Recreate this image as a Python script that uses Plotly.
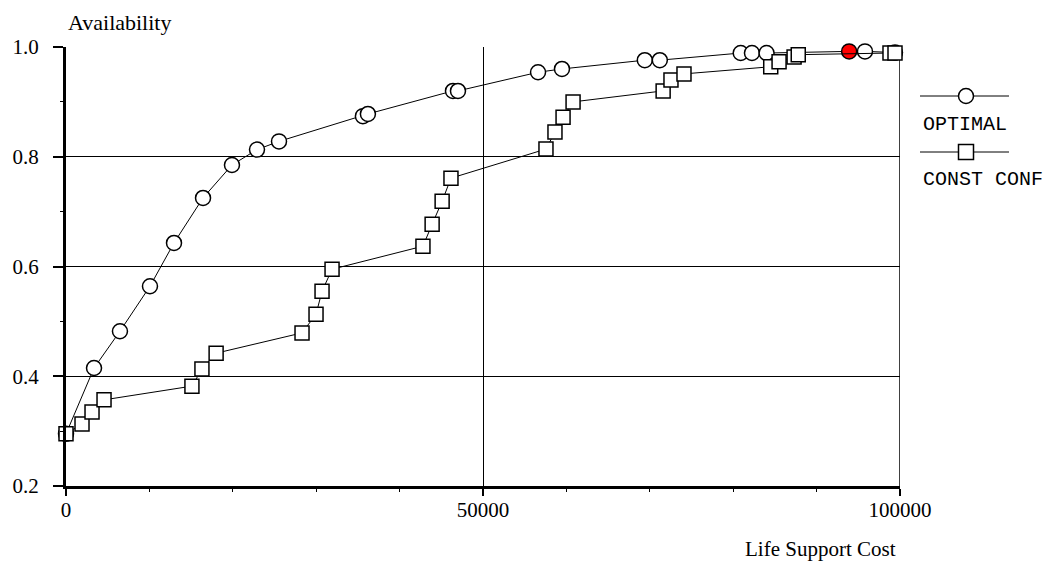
import plotly.graph_objects as go

# ---- data ----
opt_cost = [0, 3360, 6470, 10070, 12950, 16430, 19900, 22900, 25540, 35600, 36200,
            46400, 47000, 56600, 59470, 69400, 71200, 80900, 82250, 84000, 93900, 95800, 99400]
opt_avail = [0.295, 0.415, 0.482, 0.564, 0.643, 0.725, 0.785, 0.813, 0.828, 0.874, 0.878,
             0.920, 0.920, 0.954, 0.960, 0.976, 0.976, 0.989, 0.989, 0.989, 0.992, 0.992, 0.990]
opt_highlight = 93900  # point drawn in red

cc_cost = [0, 1920, 3120, 4560, 15100, 16300, 18000, 28300, 29980, 30700, 31900,
           42800, 43900, 45100, 46160, 57550, 58630, 59600, 60800, 71600, 72540, 74100,
           84500, 85500, 87300, 87800, 98800, 99400]
cc_avail = [0.295, 0.313, 0.335, 0.357, 0.382, 0.413, 0.442, 0.479, 0.513, 0.555, 0.595,
            0.637, 0.677, 0.719, 0.761, 0.814, 0.845, 0.872, 0.900, 0.920, 0.940, 0.951,
            0.964, 0.973, 0.982, 0.986, 0.989, 0.989]

x_ticks = [0, 50000, 100000]
y_ticks = [0.2, 0.4, 0.6, 0.8, 1.0]
y_tick_labels = ["0.2", "0.4", "0.6", "0.8", "1.0"]
series_names = ["OPTIMAL", "CONST CONF"]

# ---- figure ----
# page body has an 8px margin, so the figure is placed at (8, 8)
OFF = 8
W, H = 1054 - OFF, 565 - OFF
L, R, T, B = 66 - OFF, 1054 - 900, 47 - OFF, 565 - 486


def px(xp):
    # reference-window pixel -> paper fraction
    return (xp - OFF - L) / (W - L - R)


def py(yp):
    return (H - B - (yp - OFF)) / (H - T - B)


opt_fill = ["red" if c == opt_highlight else "white" for c in opt_cost]

fig = go.Figure()
fig.add_trace(go.Scatter(
    x=opt_cost, y=opt_avail, mode="lines+markers", name=series_names[0],
    line=dict(color="black", width=1),
    marker=dict(symbol="circle", size=15, color=opt_fill,
                line=dict(color="black", width=1.5)),
    cliponaxis=False, showlegend=False))
fig.add_trace(go.Scatter(
    x=cc_cost, y=cc_avail, mode="lines+markers", name=series_names[1],
    line=dict(color="black", width=1),
    marker=dict(symbol="square", size=14, color="white",
                line=dict(color="black", width=1.5)),
    cliponaxis=False, showlegend=False))

serif = "Liberation Serif, Times New Roman, serif"
mono = "Liberation Mono, Courier New, monospace"

fig.update_layout(
    width=W, height=H,
    margin=dict(l=L, r=R, t=T, b=B, autoexpand=False),
    paper_bgcolor="white", plot_bgcolor="white",
    xaxis=dict(range=[0, 100000], tickvals=x_ticks, ticktext=[str(v) for v in x_ticks],
               automargin=False,
               showgrid=True, gridcolor="black", gridwidth=1,
               showline=True, linecolor="black", linewidth=3,
               mirror=False, zeroline=False,
               ticks="outside", ticklen=7, tickwidth=2, tickcolor="black",
               minor=dict(dtick=10000, ticks="outside", ticklen=3, tickwidth=1,
                          tickcolor="black", showgrid=False),
               ticklabelstandoff=-4,
               tickfont=dict(family=serif, size=21, color="black")),
    yaxis=dict(range=[0.2, 1.0], tickvals=y_ticks, ticktext=y_tick_labels,
               automargin=False,
               showgrid=True, gridcolor="black", gridwidth=1,
               showline=True, linecolor="black", linewidth=3,
               zeroline=False,
               ticks="outside", ticklen=10, tickwidth=2, tickcolor="black",
               minor=dict(dtick=0.1, ticks="outside", ticklen=3, tickwidth=1,
                          tickcolor="black", showgrid=False),
               ticklabelstandoff=10,
               tickfont=dict(family=serif, size=21, color="black")),
)

# right border line at x=100000
fig.add_shape(type="line", xref="x", yref="y", x0=100000, x1=100000, y0=0.2, y1=1.0,
              line=dict(color="black", width=1.5), layer="below")

# axis titles
fig.add_annotation(text="Availability", xref="paper", yref="paper",
                   x=px(66), y=py(8.5), xanchor="left", yanchor="top",
                   showarrow=False, font=dict(family=serif, size=22, color="black"))
fig.add_annotation(text="Life Support Cost", xref="paper", yref="paper",
                   x=px(898), y=py(549), xanchor="right", yanchor="middle",
                   showarrow=False, font=dict(family=serif, size=21, color="black"))

# legend (drawn manually: sample above the label)
leg = [(96, 124, "circle", series_names[0]), (152, 179, "square", series_names[1])]
for ly, ty, sym, name in leg:
    fig.add_shape(type="line", xref="paper", yref="paper",
                  x0=px(920), x1=px(1009), y0=py(ly), y1=py(ly),
                  line=dict(color="black", width=1))
    r = 7.5
    fig.add_shape(type="circle" if sym == "circle" else "rect",
                  xref="paper", yref="paper",
                  x0=px(966 - r), x1=px(966 + r), y0=py(ly - r), y1=py(ly + r),
                  line=dict(color="black", width=1.5), fillcolor="white")
    fig.add_annotation(text=name, xref="paper", yref="paper",
                       x=px(921), y=py(ty), xanchor="left", yanchor="middle",
                       showarrow=False, font=dict(family=mono, size=20, color="black"))

fig.write_html("out.html")
